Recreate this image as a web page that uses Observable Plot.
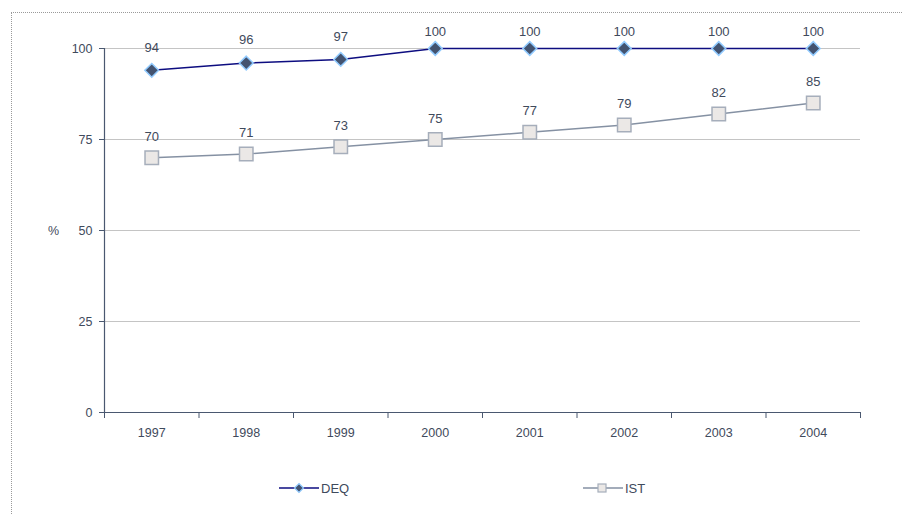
<!DOCTYPE html>
<html>
<head>
<meta charset="utf-8">
<script src="https://cdn.jsdelivr.net/npm/d3@7"></script>
<script src="https://cdn.jsdelivr.net/npm/@observablehq/plot@0.6"></script>
<style>
  html, body { margin: 0; padding: 0; background: #fff; }
  #wrap { position: relative; width: 902px; height: 514px; font-family: "Liberation Sans", Arial, sans-serif; }
  #frame { position: absolute; left: 11px; top: 12px; right: 0; bottom: -2px; border-top: 1px dotted #9a9a9a; border-left: 1px dotted #9a9a9a; pointer-events: none; }
  .leg { position: absolute; top: 480px; height: 16px; font-size: 13px; color: #3f4a5c; display: flex; align-items: center; }
  .leg svg { display: block; }
</style>
</head>
<body>
<div id="wrap"><div id="frame"></div></div>
<script>
const years = [1997, 1998, 1999, 2000, 2001, 2002, 2003, 2004];
const deq = [94, 96, 97, 100, 100, 100, 100, 100];
const ist = [70, 71, 73, 75, 77, 79, 82, 85];
const yTicks = [0, 25, 50, 75, 100];
const seriesNames = ["DEQ", "IST"];

const deqData = years.map((y, i) => ({year: y, value: deq[i]}));
const istData = years.map((y, i) => ({year: y, value: ist[i]}));
const xDomain = [years[0] - 0.5, years[years.length - 1] + 0.5];
const bounds = d3.range(xDomain[0], xDomain[1] + 0.01, 1);

const textColor = "#3f4a5c";
const axisColor = "#4a5870";

const chart = Plot.plot({
  width: 902,
  height: 514,
  marginLeft: 104,
  marginRight: 42,
  marginTop: 48,
  marginBottom: 102,
  style: {fontFamily: "'Liberation Sans', Arial, sans-serif", fontSize: "12px", color: textColor, background: "transparent"},
  x: {type: "linear", domain: xDomain},
  y: {domain: [0, 100]},
  marks: [
    Plot.ruleY(yTicks.filter(d => d > 0), {stroke: "#c4c4c4", strokeWidth: 1}),
    Plot.axisY({ticks: yTicks, tickSize: 5, tickPadding: 7, stroke: axisColor, label: null, fontSize: 12.5, fill: textColor, style: {letterSpacing: "-0.6px"}}),
    Plot.axisX({ticks: bounds, tickSize: 6, tickFormat: () => "", stroke: axisColor, label: null}),
    Plot.axisX({ticks: years, tickSize: 0, tickPadding: 16, tickFormat: d => String(d), label: null, fontSize: 12.5, fill: textColor, style: {letterSpacing: "-0.6px"}}),
    Plot.ruleY([0], {stroke: axisColor, strokeWidth: 1.2}),
    Plot.ruleX([xDomain[0]], {stroke: axisColor, strokeWidth: 1.2}),
    Plot.text(["%"], {x: () => xDomain[0], y: () => 50, dx: -51, fill: textColor, fontSize: 12.5}),
    Plot.line(istData, {x: "year", y: "value", stroke: "#8591a3", strokeWidth: 1.5}),
    Plot.dot(istData, {x: "year", y: "value", symbol: "square", r: 7.6, fill: "#ebe8e6", stroke: "#a6aebb", strokeWidth: 1.5}),
    Plot.line(deqData, {x: "year", y: "value", stroke: "#0d0d80", strokeWidth: 1.5}),
    Plot.dot(deqData, {x: "year", y: "value", symbol: "diamond2", r: 6.2, fill: "#435370", stroke: "#92cbff", strokeWidth: 1.5}),
    Plot.text(istData, {x: "year", y: "value", text: d => String(d.value), dy: -21, fill: textColor, fontSize: 13}),
    Plot.text(deqData.filter(d => d.value < 100), {x: "year", y: "value", text: d => String(d.value), dy: -23, fill: textColor, fontSize: 13}),
    Plot.text(deqData.filter(d => d.value >= 100), {x: "year", y: "value", text: d => String(d.value), dy: -17, fill: textColor, fontSize: 13, style: {letterSpacing: "-0.7px"}})
  ]
});
chart.style.position = "absolute";
chart.style.left = "0";
chart.style.top = "0";
document.getElementById("wrap").appendChild(chart);

// Legend
function legendItem(name, left, swatch) {
  const div = document.createElement("div");
  div.className = "leg";
  div.style.left = left + "px";
  div.innerHTML = swatch + `<span style="margin-left:2px">${name}</span>`;
  document.getElementById("wrap").appendChild(div);
}
legendItem(seriesNames[0], 279,
  `<svg width="40" height="16"><line x1="0" x2="40" y1="8" y2="8" stroke="#0d0d80" stroke-width="1.5"/>` +
  `<path d="M20,3.5L24.5,8L20,12.5L15.5,8Z" fill="#435370" stroke="#92cbff" stroke-width="1.2"/></svg>`);
legendItem(seriesNames[1], 583,
  `<svg width="40" height="16"><line x1="0" x2="40" y1="8" y2="8" stroke="#8591a3" stroke-width="1.5"/>` +
  `<rect x="15" y="4" width="8" height="8" fill="#ebe8e6" stroke="#a6aebb" stroke-width="1.2"/></svg>`);
</script>
</body>
</html>
